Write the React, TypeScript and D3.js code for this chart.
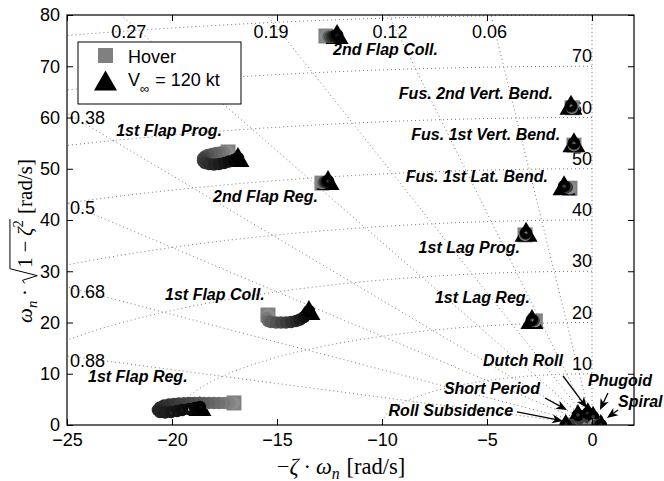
import { useEffect, useRef } from "react";
import * as d3 from "d3";

type Pt = [number, number];

const xTicks = [-25, -20, -15, -10, -5, 0];
const yTicks = [0, 10, 20, 30, 40, 50, 60, 70, 80];
const zetaGrid = [0.06, 0.12, 0.19, 0.27, 0.38, 0.5, 0.68, 0.88];
const omegaGrid = [10, 20, 30, 40, 50, 60, 70, 80];
const omegaLabels = [10, 20, 30, 40, 50, 60, 70];

// eigenvalue traces, first point = hover, last point = 120 kt
const flap1Reg: Pt[] = [
    [-17.05, 4.3], [-17.29, 4.31], [-17.52, 4.3], [-17.76, 4.28], [-18.0, 4.3], [-18.24, 4.31],
    [-18.48, 4.3], [-18.71, 4.29], [-18.95, 4.3], [-19.19, 4.28], [-19.43, 4.26], [-19.67, 4.2],
    [-19.9, 4.1], [-20.14, 4.0], [-20.38, 3.8], [-20.57, 3.41], [-20.67, 2.93], [-20.57, 2.54],
    [-20.33, 2.44], [-20.05, 2.54], [-19.76, 2.73], [-19.52, 2.93], [-19.19, 3.12], [-18.9, 3.32],
    [-18.67, 3.51],
];
const flap1Coll: Pt[] = [
    [-15.43, 21.46], [-15.48, 20.88], [-15.43, 20.29], [-15.29, 20.1], [-15.05, 20.0], [-14.81, 19.98],
    [-14.57, 20.0], [-14.33, 20.1], [-14.1, 20.29], [-13.9, 20.59], [-13.71, 21.07], [-13.57, 21.66],
    [-13.48, 22.24],
];
const flap1Prog: Pt[] = [
    [-17.33, 53.27], [-17.52, 53.25], [-17.71, 53.17], [-17.9, 53.07], [-18.1, 52.88], [-18.29, 52.68],
    [-18.43, 52.39], [-18.52, 52.0], [-18.52, 51.51], [-18.43, 51.12], [-18.24, 50.93], [-18.0, 50.83],
    [-17.76, 50.93], [-17.52, 51.12], [-17.29, 51.41], [-17.05, 51.71], [-16.86, 52.1],
];
const flap2Reg: Pt[] = [[-12.86, 47.2], [-12.8, 47.3], [-12.74, 47.4], [-12.68, 47.45], [-12.62, 47.5], [-12.57, 47.6]];
const flap2Coll: Pt[] = [[-12.67, 75.9], [-12.55, 75.8], [-12.45, 75.7], [-12.35, 75.75], [-12.25, 75.9], [-12.14, 76.1]];
const fus2Vert: Pt[] = [[-0.95, 61.9], [-0.97, 62.1], [-1.0, 62.3]];
const fus1Vert: Pt[] = [[-0.86, 54.6], [-0.86, 54.8], [-0.86, 55.0]];
const fus1Lat: Pt[] = [[-1.05, 46.2], [-1.2, 46.4], [-1.33, 46.6]];
const lag1Prog: Pt[] = [[-3.19, 37.1], [-3.17, 37.3], [-3.14, 37.5]];
const lag1Reg: Pt[] = [[-2.7, 20.3], [-2.78, 20.4], [-2.86, 20.5]];
const rollSub: Pt[] = [[-0.85, 0.0], [-1.05, 0.0], [-1.25, 0.0]];
const shortPeriod: Pt[] = [[-0.5, 0.6], [-0.6, 1.3], [-0.67, 1.95]];
const dutchRoll: Pt[] = [[-0.1, 0.5], [-0.15, 1.4], [-0.2, 2.3]];
const phugoid: Pt[] = [[0.15, 0.3], [0.1, 0.9], [0.05, 1.6]];
const spiral: Pt[] = [[0.1, 0.0], [0.25, 0.0], [0.42, 0.0]];

const traces: Pt[][] = [
    flap1Reg, flap1Coll, flap1Prog, flap2Reg, flap2Coll, fus2Vert, fus1Vert, fus1Lat,
    lag1Prog, lag1Reg, rollSub, shortPeriod, dutchRoll, phugoid, spiral,
];

const modeLabels = [
    { text: "2nd Flap Coll.", at: [-12.33, 72.2], anchor: "start" },
    { text: "1st Flap Prog.", at: [-17.62, 56.4], anchor: "end" },
    { text: "2nd Flap Reg.", at: [-13.05, 43.5], anchor: "end" },
    { text: "Fus. 2nd Vert. Bend.", at: [-1.86, 63.6], anchor: "end" },
    { text: "Fus. 1st Vert. Bend.", at: [-1.52, 55.6], anchor: "end" },
    { text: "Fus. 1st Lat. Bend.", at: [-2.1, 47.4], anchor: "end" },
    { text: "1st Lag Prog.", at: [-3.43, 33.6], anchor: "end" },
    { text: "1st Lag Reg.", at: [-2.95, 23.8], anchor: "end" },
    { text: "1st Flap Coll.", at: [-20.33, 24.4], anchor: "start" },
    { text: "1st Flap Reg.", at: [-24.0, 8.4], anchor: "start" },
    { text: "Dutch Roll", at: [-1.38, 11.5], anchor: "end" },
    { text: "Short Period", at: [-2.48, 6.0], anchor: "end" },
    { text: "Roll Subsidence", at: [-3.76, 1.76], anchor: "end" },
    { text: "Phugoid", at: [-0.19, 7.6], anchor: "start" },
    { text: "Spiral", at: [1.24, 3.5], anchor: "start" },
];

const arrows: { from: Pt; to: Pt }[] = [
    { from: [-1.38, 9.56], to: [-0.24, 3.32] },
    { from: [0.76, 6.24], to: [0.38, 2.93] },
    { from: [-2.24, 5.27], to: [-1.19, 2.93] },
    { from: [1.24, 2.93], to: [0.71, 1.37] },
    { from: [-3.57, 2.54], to: [-1.38, 0.78] },
];

const sans = "'Liberation Sans', Arial, Helvetica, sans-serif";
const serif = "'Liberation Serif', 'Times New Roman', serif";

type Piece = { t?: string; it?: boolean; sub?: boolean; sup?: boolean; gap?: number; rad?: "open" | "close" };

function mathText(g: any, pieces: Piece[], fs: number) {
    const inner = g.append("g");
    let cx = 0, radX = 0, radEnd = 0;
    for (const p of pieces) {
        if (p.gap) { cx += p.gap * fs; continue; }
        if (p.rad === "open") { radX = cx; cx += 0.8 * fs; continue; }
        if (p.rad === "close") { radEnd = cx; continue; }
        const small = p.sub || p.sup;
        const el = inner.append("text")
            .attr("x", cx)
            .attr("y", p.sub ? 0.22 * fs : p.sup ? -0.42 * fs : 0)
            .attr("font-size", small ? fs * 0.7 : fs)
            .attr("font-style", p.it ? "italic" : null)
            .text(p.t);
        cx += (el.node() as SVGTextElement).getComputedTextLength();
    }
    if (radEnd > radX) {
        const top = -1.05 * fs;
        inner.append("path")
            .attr("d", `M${radX + 0.05 * fs},${-0.35 * fs} L${radX + 0.2 * fs},${-0.45 * fs} L${radX + 0.42 * fs},${0.25 * fs} L${radX + 0.75 * fs},${top} L${radEnd + 0.05 * fs},${top}`)
            .attr("fill", "none").attr("stroke", "#000").attr("stroke-width", 1);
    }
    inner.attr("transform", `translate(${-cx / 2},0)`);
}

export default function App() {
    const svgRef = useRef<SVGSVGElement | null>(null);

    useEffect(() => {
        document.body.style.margin = "0";
        const svg = d3.select(svgRef.current);
        svg.selectAll("*").remove();

        const x = d3.scaleLinear().domain([-25, 2]).range([67, 634]);
        const y = d3.scaleLinear().domain([0, 80]).range([425, 15]);
        const [x0, x1] = x.range();
        const [y0, y1] = y.range();

        svg.append("defs").append("clipPath").attr("id", "plotClip")
            .append("rect").attr("x", x0).attr("y", y1).attr("width", x1 - x0).attr("height", y0 - y1);

        // grid: constant damping lines and constant frequency arcs
        const grid = svg.append("g").attr("clip-path", "url(#plotClip)")
            .attr("fill", "none").attr("stroke", "#7a7a7a").attr("stroke-width", 1).attr("stroke-dasharray", "1,3");
        const line = d3.line<Pt>().x(d => x(d[0])).y(d => y(d[1]));
        omegaGrid.forEach(w => {
            const arc: Pt[] = d3.range(0, 90.5, 0.5).map(a => {
                const r = a * Math.PI / 180;
                return [-w * Math.sin(r), w * Math.cos(r)];
            });
            grid.append("path").attr("d", line(arc));
        });
        zetaGrid.concat([0]).forEach(z => {
            grid.append("path").attr("d", line([[0, 0], [-z * 200, Math.sqrt(1 - z * z) * 200]]));
        });

        // grid labels
        const glab = svg.append("g").attr("font-family", sans).attr("font-size", 18).attr("fill", "#000");
        zetaGrid.forEach(z => {
            const k = Math.sqrt(1 - z * z) / z;
            const yLeft = 25 * k;
            if (yLeft <= 80) {
                glab.append("text").attr("x", x(-25) + 3).attr("y", y(yLeft) + 11).text(String(z));
            } else {
                glab.append("text").attr("x", x(-78 / k) - 4).attr("y", y(75.5))
                    .attr("text-anchor", "middle").text(String(z));
            }
        });
        omegaLabels.forEach(w => {
            glab.append("text").attr("x", x(0)).attr("y", y(w) - 4).attr("text-anchor", "end").text(String(w));
        });

        // markers
        const marks = svg.append("g").attr("clip-path", "url(#plotClip)");
        traces.forEach(tr => {
            const [hx, hy] = tr[0];
            marks.append("rect").attr("x", x(hx) - 7.5).attr("y", y(hy) - 7.5).attr("width", 15).attr("height", 15)
                .attr("fill", "#808080");
        });
        traces.forEach(tr => {
            const [fx, fy] = tr[tr.length - 1];
            marks.append("path").attr("transform", `translate(${x(fx)},${y(fy)})`)
                .attr("d", "M0,-11 L11.5,9 L-11.5,9 Z").attr("fill", "#000");
        });
        const shade = d3.interpolateRgb("#8c8c8c", "#000000");
        traces.forEach(tr => {
            marks.selectAll(null).data(tr).join("circle")
                .attr("cx", d => x(d[0])).attr("cy", d => y(d[1])).attr("r", 4)
                .attr("fill", "none").attr("stroke-width", 4.5)
                .attr("stroke", (_d, i) => shade(Math.pow(i / (tr.length - 1), 0.8)));
        });

        // annotations
        const ann = svg.append("g").attr("font-family", sans).attr("font-size", 16)
            .attr("font-weight", "bold").attr("font-style", "italic").attr("fill", "#000");
        modeLabels.forEach(l => {
            ann.append("text").attr("x", x(l.at[0])).attr("y", y(l.at[1])).attr("text-anchor", l.anchor).text(l.text);
        });
        arrows.forEach(a => {
            const ax = x(a.from[0]), ay = y(a.from[1]), bx = x(a.to[0]), by = y(a.to[1]);
            const ang = Math.atan2(by - ay, bx - ax);
            const L = 11, hw = 4.5, notch = 8;
            const ux = Math.cos(ang), uy = Math.sin(ang);
            const px = -uy, py = ux;
            svg.append("line").attr("x1", ax).attr("y1", ay)
                .attr("x2", bx - ux * notch).attr("y2", by - uy * notch)
                .attr("stroke", "#000").attr("stroke-width", 1.3);
            svg.append("path").attr("fill", "#000").attr("d",
                `M${bx},${by} L${bx - ux * L + px * hw},${by - uy * L + py * hw} L${bx - ux * notch},${by - uy * notch} L${bx - ux * L - px * hw},${by - uy * L - py * hw} Z`);
        });

        // axes
        const axFont = (g: any) => g.attr("font-family", sans).attr("font-size", 18);
        svg.append("g").attr("transform", `translate(0,${y0})`)
            .call(d3.axisBottom(x).tickValues(xTicks).tickSize(-6).tickPadding(8)).call(axFont);
        svg.append("g").attr("transform", `translate(0,${y1})`)
            .call(d3.axisTop(x).tickValues(xTicks).tickSize(-6).tickFormat(() => ""));
        svg.append("g").attr("transform", `translate(${x0},0)`)
            .call(d3.axisLeft(y).tickValues(yTicks).tickSize(-6).tickPadding(7)).call(axFont);
        svg.append("g").attr("transform", `translate(${x1},0)`)
            .call(d3.axisRight(y).tickValues(yTicks).tickSize(-6).tickFormat(() => ""));
        svg.selectAll(".domain").remove();
        svg.selectAll(".tick text").attr("fill", "#000");
        svg.append("rect").attr("x", x0).attr("y", y1).attr("width", x1 - x0).attr("height", y0 - y1)
            .attr("fill", "none").attr("stroke", "#000").attr("stroke-width", 1.2);

        // legend
        const leg = svg.append("g").attr("font-family", sans).attr("font-size", 18);
        leg.append("rect").attr("x", 78).attr("y", 42).attr("width", 163).attr("height", 62)
            .attr("fill", "#fff").attr("stroke", "#000");
        leg.append("rect").attr("x", 98).attr("y", 48).attr("width", 15).attr("height", 15).attr("fill", "#808080");
        leg.append("path").attr("transform", "translate(105.5,81)").attr("d", "M0,-10.5 L11.5,9.5 L-11.5,9.5 Z").attr("fill", "#000");
        leg.append("text").attr("x", 128).attr("y", 63).text("Hover");
        const vt = leg.append("text").attr("x", 128).attr("y", 86);
        vt.append("tspan").text("V");
        vt.append("tspan").attr("font-size", 13).attr("dy", 7).text("∞");
        vt.append("tspan").attr("dy", -7).attr("dx", 6).text("= 120 kt");

        // axis titles
        const yl = svg.append("g").attr("font-family", serif).attr("fill", "#000")
            .attr("transform", "translate(32,241) rotate(-90)");
        mathText(yl, [
            { t: "ω", it: true }, { t: "n", it: true, sub: true }, { gap: 0.22 }, { t: "·" }, { gap: 0.22 },
            { rad: "open" }, { t: "1" }, { gap: 0.22 }, { t: "−" }, { gap: 0.22 }, { t: "ζ", it: true },
            { t: "2", sup: true }, { rad: "close" }, { gap: 0.3 }, { t: "[rad/s]" },
        ], 21);
        const xl = svg.append("g").attr("font-family", serif).attr("fill", "#000")
            .attr("transform", "translate(341,474)");
        mathText(xl, [
            { t: "−" }, { t: "ζ", it: true }, { gap: 0.22 }, { t: "·" }, { gap: 0.22 },
            { t: "ω", it: true }, { t: "n", it: true, sub: true }, { gap: 0.3 }, { t: "[rad/s]" },
        ], 22.5);
    }, []);

    return (
        <svg ref={svgRef} width={664} height={481} style={{ display: "block", background: "#fff" }} />
    );
}
